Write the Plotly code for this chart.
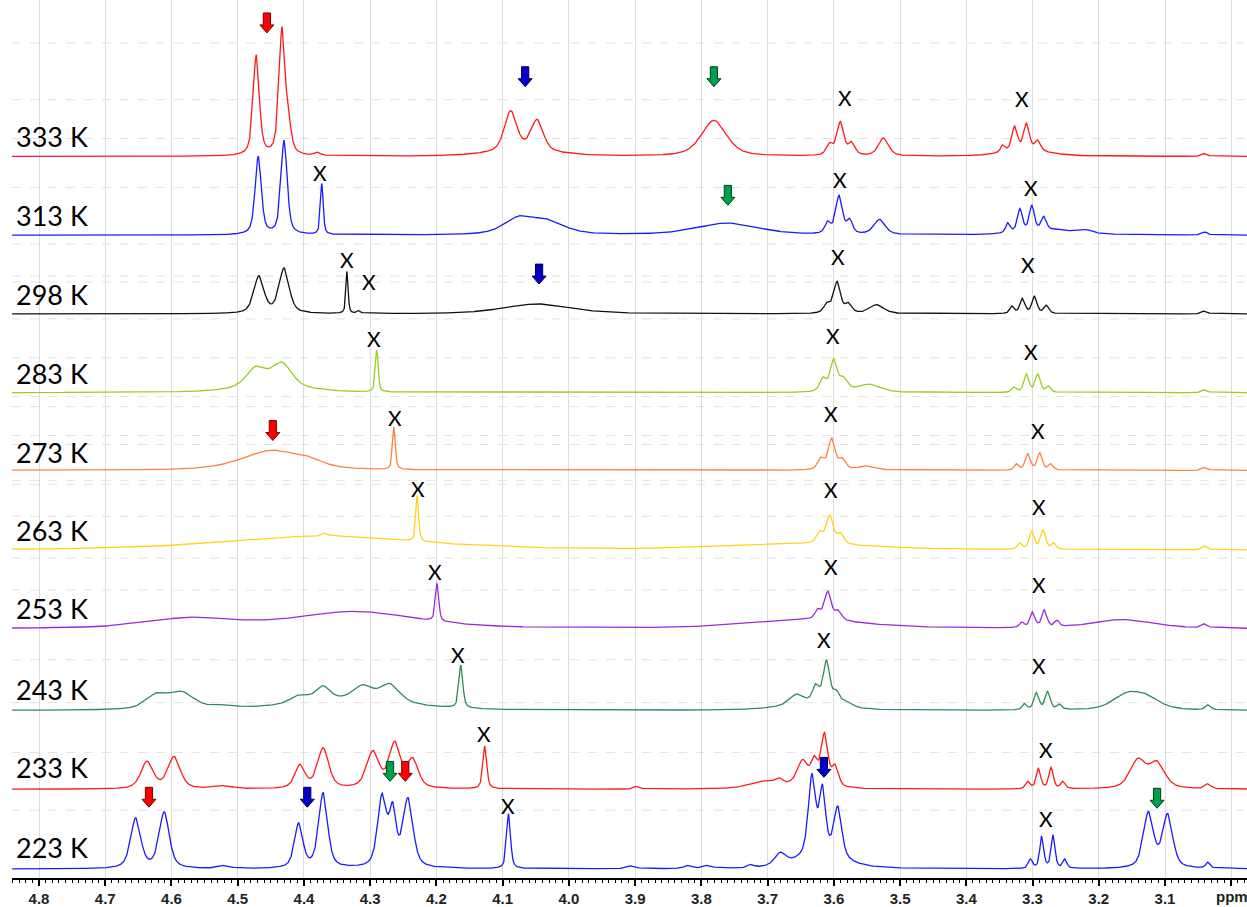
import numpy as np
import plotly.graph_objects as go

# ---------------- axis / layout constants ----------------
PPM_LEFT, PPM_RIGHT = 4.8408, 2.9762
PX_PER_PPM = 662.35
PLOT_H = 881  # y data units == pixels of plot area

# ---------------- data ----------------
temperatures = ["333 K", "313 K", "298 K", "283 K", "273 K",
                "263 K", "253 K", "243 K", "233 K", "223 K"]
line_colors = ["#FF1A1A", "#1A1AFF", "#111111", "#99CC22", "#FF8040",
               "#FFD21A", "#9B2AD6", "#2E8B57", "#FF1A1A", "#1A1AFF"]
baselines = [724, 645, 566, 487, 409, 329, 250, 168, 89, 9]
label_y = [744, 665, 586, 506, 427, 349, 270, 189, 111, 31]

# peak lists: (position ppm, height, full width ppm)
peaks_333 = [(4.472, 100, 0.011), (4.433, 126, 0.011), (4.423, 22, 0.010), (4.379, 3, 0.01),
             (4.088, 40, 0.022), (4.048, 31, 0.022), (4.07, 5, 0.12),
             (3.781, 36, 0.045),
             (3.606, 11, 0.012), (3.590, 33, 0.012), (3.573, 12, 0.012), (3.525, 18, 0.018),
             (3.345, 7, 0.008), (3.327, 24, 0.010), (3.309, 26, 0.010), (3.292, 10, 0.010),
             (3.31, 6, 0.08), (3.04, 3, 0.01)]
peaks_313 = [(4.469, 78, 0.011), (4.430, 94, 0.011), (4.373, 51, 0.005),
             (4.075, 16, 0.055), (4.03, 12, 0.06),
             (3.76, 12, 0.11),
             (3.609, 11, 0.01), (3.592, 38, 0.012), (3.576, 13, 0.01), (3.531, 15, 0.02),
             (3.337, 10, 0.008), (3.319, 23, 0.009), (3.301, 25, 0.009), (3.283, 13, 0.009),
             (3.27, 5, 0.1), (3.218, 3, 0.02), (3.04, 3, 0.01)]
peaks_298 = [(4.468, 37, 0.018), (4.430, 45, 0.018), (4.335, 42, 0.004), (4.317, 3, 0.006),
             (4.048, 10, 0.12),
             (3.61, 9, 0.012), (3.595, 31, 0.012), (3.578, 9, 0.012), (3.535, 9, 0.025),
             (3.331, 7, 0.008), (3.315, 15, 0.009), (3.297, 17, 0.009), (3.279, 8, 0.009),
             (3.04, 3, 0.01)]
peaks_283 = [(4.472, 19, 0.035), (4.433, 23, 0.035), (4.45, 6, 0.12), (4.290, 42, 0.005),
             (3.616, 13, 0.012), (3.600, 31, 0.012), (3.585, 12, 0.015), (3.546, 8, 0.04),
             (3.327, 5, 0.008), (3.309, 18, 0.009), (3.292, 18, 0.009), (3.276, 6, 0.008),
             (3.04, 3, 0.01)]
peaks_273 = [(4.447, 20, 0.11), (4.39, 4, 0.04), (4.264, 43, 0.005),
             (3.619, 11, 0.012), (3.603, 31, 0.012), (3.587, 10, 0.012), (3.55, 4, 0.03),
             (3.324, 6, 0.008), (3.307, 16, 0.009), (3.289, 17, 0.009), (3.272, 6, 0.008),
             (3.04, 3, 0.01)]
peaks_263 = [(4.37, 14, 0.35), (4.368, 3, 0.01), (4.229, 46, 0.005),
             (3.65, 6, 0.25),
             (3.621, 11, 0.012), (3.606, 28, 0.012), (3.590, 10, 0.012),
             (3.319, 6, 0.008), (3.301, 18, 0.009), (3.284, 19, 0.009), (3.268, 6, 0.008),
             (3.04, 4, 0.01)]
peaks_253 = [(4.572, 10, 0.15), (4.323, 17, 0.22), (4.199, 38, 0.006),
             (3.64, 9, 0.2),
             (3.624, 9, 0.01), (3.609, 28, 0.012), (3.593, 9, 0.012),
             (3.316, 5, 0.008), (3.300, 15, 0.009), (3.282, 17, 0.009), (3.263, 6, 0.008),
             (3.164, 9, 0.11), (3.04, 4, 0.01)]
peaks_243 = [(4.622, 14, 0.04), (4.584, 16, 0.045), (4.52, 3, 0.04),
             (4.33, 10, 0.2), (4.406, 8, 0.035), (4.371, 14, 0.025), (4.311, 14, 0.035),
             (4.270, 18, 0.035),
             (4.163, 43, 0.007),
             (3.64, 6, 0.1), (3.656, 10, 0.025), (3.627, 17, 0.012), (3.611, 43, 0.012),
             (3.596, 12, 0.012), (3.58, 5, 0.02),
             (3.312, 6, 0.008), (3.294, 17, 0.009), (3.277, 18, 0.009), (3.259, 5, 0.008),
             (3.158, 14, 0.05), (3.128, 11, 0.05), (3.035, 5, 0.01)]
peaks_233 = [(4.637, 27, 0.022), (4.596, 32, 0.022), (4.52, 3, 0.03),
             (4.406, 23, 0.018), (4.371, 40, 0.02), (4.296, 36, 0.022), (4.263, 44, 0.02),
             (4.236, 28, 0.02),
             (4.127, 43, 0.007), (3.897, 3, 0.01),
             (3.70, 8, 0.06), (3.681, 4, 0.01),
             (3.647, 26, 0.02), (3.629, 24, 0.012), (3.614, 52, 0.012), (3.598, 20, 0.012),
             (3.307, 7, 0.008), (3.291, 20, 0.008), (3.272, 21, 0.008), (3.254, 7, 0.008),
             (3.141, 28, 0.028), (3.112, 25, 0.028), (3.035, 5, 0.01)]
peaks_223 = [(4.654, 50, 0.018), (4.611, 56, 0.018), (4.52, 3, 0.02),
             (4.408, 44, 0.015), (4.371, 75, 0.016),
             (4.282, 70, 0.016), (4.266, 52, 0.012), (4.243, 68, 0.018),
             (4.091, 55, 0.007),
             (3.905, 3, 0.015), (3.82, 3, 0.015), (3.79, 3, 0.015), (3.725, 3, 0.01),
             (3.681, 12, 0.02),
             (3.62, 14, 0.08), (3.633, 78, 0.013), (3.617, 62, 0.011), (3.594, 50, 0.014),
             (3.303, 9, 0.007), (3.286, 32, 0.007), (3.269, 33, 0.007), (3.251, 9, 0.007),
             (3.125, 55, 0.018), (3.096, 53, 0.018), (3.035, 6, 0.008)]
peak_lists = [peaks_333, peaks_313, peaks_298, peaks_283, peaks_273,
              peaks_263, peaks_253, peaks_243, peaks_233, peaks_223]

# "X" markers (ppm, y)
x_mark_ppm = [3.583, 3.316, 4.376, 3.591, 3.302, 4.335, 4.302, 3.594, 3.307,
              4.294, 3.601, 3.302, 4.263, 3.604, 3.292, 4.228, 3.604, 3.290,
              4.202, 3.604, 3.290, 4.167, 3.615, 3.290, 4.128, 3.280, 4.092, 3.280]
x_mark_y = [783, 782, 708, 701, 693, 621, 599, 624, 616,
            541, 544, 528, 462, 466, 449, 391, 390, 373,
            308, 313, 295, 224, 239, 213, 145, 129, 73, 60]

# coloured arrows (ppm, tip y, colour name)
arrow_ppm = [4.456, 4.066, 3.781, 3.760, 4.045, 4.447, 4.634, 4.395, 4.270, 4.247, 3.615, 3.112]
arrow_tip = [848, 794, 794, 675, 596, 439, 71, 71, 97, 97, 101, 70]
arrow_kind = ["red", "blue", "green", "green", "blue", "red", "red", "blue",
              "green", "red", "blue", "green"]
arrow_fill = {"red": "#FF0000", "blue": "#0000C8", "green": "#00A04A"}
arrow_edge = {"red": "#7A0000", "blue": "#000050", "green": "#00401C"}

# faint dashed horizontal guide lines (y)
guide_y = [838, 781, 742, 693, 636, 604, 598, 561, 522, 483, 473, 444, 435,
           399, 395, 363, 321, 289, 219, 176, 126, 68]

tick_vals = [4.8, 4.7, 4.6, 4.5, 4.4, 4.3, 4.2, 4.1, 4.0, 3.9, 3.8, 3.7, 3.6,
             3.5, 3.4, 3.3, 3.2, 3.1, 3.0]
tick_text = ["4.8", "4.7", "4.6", "4.5", "4.4", "4.3", "4.2", "4.1", "4.0", "3.9",
             "3.8", "3.7", "3.6", "3.5", "3.4", "3.3", "3.2", "3.1", ""]

# ---------------- build ----------------
ppm = np.arange(PPM_RIGHT, PPM_LEFT, 0.0004)


def line_shape(x, c, h, w, eta=0.55):
    d = (x - c) / w
    lor = 1.0 / (1.0 + 4.0 * d * d)
    gau = np.exp(-4.0 * np.log(2) * d * d)
    return h * (eta * lor + (1 - eta) * gau)


fig = go.Figure()

for name, col, base, plist in zip(temperatures, line_colors, baselines, peak_lists):
    y = np.full_like(ppm, float(base))
    for c, h, w in plist:
        y += line_shape(ppm, c, h, w)
    fig.add_trace(go.Scatter(x=ppm, y=y, mode="lines", name=name,
                             line=dict(color=col, width=1.3), hoverinfo="skip",
                             showlegend=False))

shapes = []
for gy in guide_y:
    shapes.append(dict(type="line", xref="paper", yref="y", x0=0, x1=1, y0=gy, y1=gy,
                       line=dict(color="#E2E2E2", width=1, dash="dash"), layer="below"))

s = 1.0 / PX_PER_PPM
for a_ppm, tip, kind in zip(arrow_ppm, arrow_tip, arrow_kind):
    hw, sw, head, total = 7 * s, 3.6 * s, 8, 20
    pts = [(a_ppm - sw, tip + total), (a_ppm + sw, tip + total), (a_ppm + sw, tip + head),
           (a_ppm + hw, tip + head), (a_ppm, tip), (a_ppm - hw, tip + head),
           (a_ppm - sw, tip + head)]
    path = "M " + " L ".join(f"{px:.5f},{py:.2f}" for px, py in pts) + " Z"
    shapes.append(dict(type="path", xref="x", yref="y", path=path,
                       fillcolor=arrow_fill[kind],
                       line=dict(color=arrow_edge[kind], width=1), layer="above"))

annotations = []
for name, ly in zip(temperatures, label_y):
    annotations.append(dict(x=4.838, y=ly, xref="x", yref="y", text=name, showarrow=False,
                            xanchor="left", yanchor="middle",
                            font=dict(family="Lato, Noto Sans, sans-serif", size=27,
                                      color="#000000")))
for xp, xy in zip(x_mark_ppm, x_mark_y):
    annotations.append(dict(x=xp, y=xy, xref="x", yref="y", text="X", showarrow=False,
                            xanchor="center", yanchor="middle",
                            font=dict(family="Lato, Noto Sans, sans-serif", size=21,
                                      color="#000000")))
annotations.append(dict(x=2.999, y=0, xref="x", yref="paper", text="<b>ppm</b>",
                        showarrow=False, xanchor="center", yanchor="middle", yshift=-18,
                        font=dict(family="Liberation Sans, Arial, sans-serif", size=15,
                                  color="#222222")))

fig.update_layout(
    width=1247, height=907,
    margin=dict(l=12, r=0, t=0, b=26, pad=0),
    paper_bgcolor="white", plot_bgcolor="white",
    shapes=shapes, annotations=annotations,
    xaxis=dict(range=[PPM_LEFT, PPM_RIGHT], tickvals=tick_vals, ticktext=tick_text,
               showgrid=True, gridcolor="#DCDCDC", gridwidth=1,
               showline=True, linecolor="#000000", linewidth=2,
               ticks="outside", ticklen=6, tickwidth=1.5, tickcolor="#000000",
               tickfont=dict(family="Liberation Sans, Arial, sans-serif", size=15,
                             color="#222222", weight="bold"),
               minor=dict(dtick=0.01, tick0=3.0, ticks="outside", ticklen=3,
                          tickwidth=1, tickcolor="#000000", showgrid=False),
               zeroline=False, fixedrange=True),
    yaxis=dict(range=[0, PLOT_H], visible=False, showgrid=False, zeroline=False,
               fixedrange=True),
)

fig.write_html("out.html")
